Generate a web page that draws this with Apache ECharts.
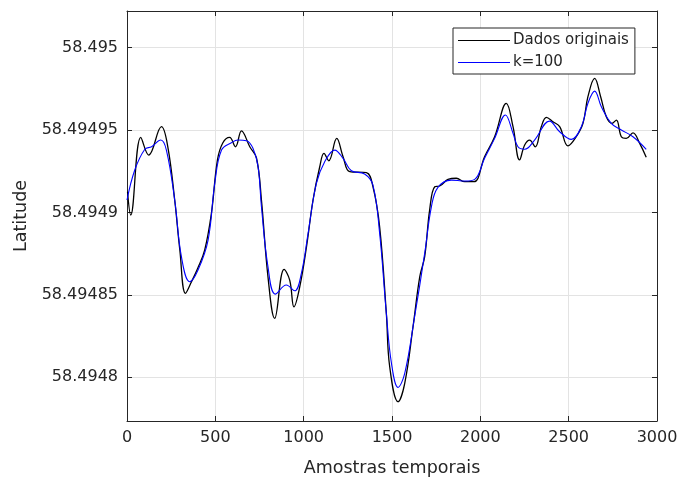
<!DOCTYPE html>
<html lang="en">
<head>
  <meta charset="UTF-8">
  <script src="https://cdn.jsdelivr.net/npm/echarts@6/dist/echarts.min.js"></script>
  <title>Latitude</title>
  <style>
    * {margin: 0; padding: 0;}
    html, body { width: 100%; height: 100%; overflow: hidden; background: #fff; }
    #chart { width: 678px; height: 478px; }
  </style>
</head>
<body>
  <div id="chart"></div>
<script>
// latitude values are stored as offsets above baseLat, in units of 1e-5 degree
var baseLat = 58.4948
var xTicks = [0, 500, 1000, 1500, 2000, 2500, 3000]
var yTicks = [0, 5, 10, 15, 20]

var origX = [3, 21, 78, 123, 195, 231, 270, 299, 331, 365, 401, 440, 478, 512, 542, 581, 614, 648, 695, 733,
  761, 798, 836, 889, 921, 945, 978, 1016, 1053, 1091, 1115, 1142, 1187, 1223, 1261, 1355, 1392, 1430, 1468,
  1487, 1534, 1572, 1619, 1657, 1685, 1713, 1742, 1770, 1817, 1864, 1911, 1964, 2024, 2081, 2147, 2185, 2222,
  2251, 2279, 2311, 2345, 2374, 2411, 2449, 2496, 2543, 2581, 2609, 2647, 2681, 2713, 2745, 2770, 2798, 2826,
  2864, 2902, 2939]
var origY = [11.26, 9.85, 14.56, 13.49, 15.21, 13.99, 10.76, 7.73, 5.10, 5.80, 6.63, 7.73, 9.97, 13.19, 14.22, 14.56, 13.99, 14.96, 13.99, 13.31,
  10.76, 6.10, 3.58, 6.55, 5.90, 4.28, 5.50, 7.92, 10.76, 12.78, 13.59, 13.14, 14.50, 13.39, 12.48, 12.42, 11.57, 9.14, 3.88,
  0.64, -1.48, -0.36, 3.07, 6.10, 7.32, 10.15, 11.57, 11.61, 12.01, 12.08, 11.87, 11.87, 13.39, 14.60, 16.63, 15.21, 13.19,
  14.10, 14.40, 13.99, 15.21, 15.78, 15.51, 15.21, 14.04, 14.60, 15.41, 17.03, 18.14, 17.03, 15.81, 15.41, 15.61, 14.60, 14.50,
  14.84, 14.20, 13.35]

var k100X = [0, 44, 101, 139, 191, 223, 270, 308, 355, 402, 459, 497, 535, 591, 629, 676, 713, 742,
  761, 798, 840, 902, 949, 987, 1025, 1072, 1119, 1176, 1223, 1270, 1345, 1392, 1430, 1468,
  1497, 1534, 1572, 1628, 1685, 1723, 1760, 1836, 1911, 1968, 2024, 2081, 2142, 2185,
  2213, 2251, 2307, 2392, 2449, 2515, 2572, 2609, 2647, 2685, 2741, 2798, 2864, 2939]
var k100Y = [10.76, 12.58, 13.84, 13.99, 14.40, 13.79, 10.76, 7.32, 5.80, 6.51, 8.33, 11.79, 13.79, 14.24, 14.40, 14.36, 13.90, 12.78,
  10.35, 6.71, 5.05, 5.60, 5.25, 6.31, 8.74, 11.77, 13.08, 13.79, 13.29, 12.54, 12.34, 11.67, 8.74, 3.88,
  0.85, -0.61, 0.24, 3.68, 7.52, 10.35, 11.53, 11.97, 11.91, 12.01, 13.29, 14.50, 15.92, 14.81,
  13.99, 13.84, 14.40, 15.55, 14.90, 14.44, 15.21, 16.63, 17.37, 16.42, 15.41, 15.01, 14.60, 13.84]

function pairs (xs, ys) {
  return xs.map(function (x, i) { return [x, ys[i]] })
}

function latLabel (v) {
  return (baseLat + v * 1e-5).toFixed(5).replace(/0+$/, '').replace(/\.$/, '')
}

var axisColor = '#262626'
var gridColor = '#e3e3e3'
var font = 'DejaVu Sans'
var yMin = -2.65
var yMax = 22.23
var lineIcon = 'path://M0,0 L52,0 L52,1.2 L0,1.2 Z'

var option = {
  animation: false,
  textStyle: { fontFamily: font },
  grid: { left: 127, top: 11, right: 21, bottom: 57, outerBoundsMode: 'none' },
  legend: {
    left: 453,
    top: 28,
    orient: 'vertical',
    padding: [5, 6, 4, 5],
    itemWidth: 52,
    itemHeight: 14,
    itemGap: 7,
    backgroundColor: '#fff',
    borderColor: axisColor,
    borderWidth: 1,
    borderRadius: 0,
    textStyle: { fontFamily: font, fontSize: 15, color: axisColor, padding: [0, 0, 0, -2] },
    data: [
      { name: 'Dados originais', icon: lineIcon },
      { name: 'k=100', icon: lineIcon }
    ]
  },
  xAxis: [
    {
      type: 'value', min: 0, max: 3000, interval: 500,
      name: 'Amostras temporais', nameLocation: 'middle', nameGap: 38,
      nameTextStyle: { fontFamily: font, fontSize: 17.5, color: axisColor },
      axisLine: { show: true, onZero: false, lineStyle: { color: axisColor, width: 1 } },
      axisTick: { show: true, inside: true, length: 5, lineStyle: { color: axisColor } },
      axisLabel: { margin: 9, fontSize: 16, color: axisColor, fontFamily: font, formatter: function (v) { return String(v) } },
      splitLine: { show: true, lineStyle: { color: gridColor, width: 1 } }
    },
    {
      type: 'value', min: 0, max: 3000, interval: 500, position: 'top',
      axisLine: { show: true, onZero: false, lineStyle: { color: axisColor, width: 1 } },
      axisTick: { show: true, inside: true, length: 5, lineStyle: { color: axisColor } },
      axisLabel: { show: false },
      splitLine: { show: false }
    }
  ],
  yAxis: [
    {
      type: 'value', min: yMin, max: yMax,
      name: 'Latitude', nameLocation: 'middle', nameGap: 89,
      nameTextStyle: { fontFamily: font, fontSize: 17.5, color: axisColor },
      axisLine: { show: true, onZero: false, lineStyle: { color: axisColor, width: 1 } },
      axisTick: { show: true, inside: true, length: 5, customValues: yTicks, lineStyle: { color: axisColor } },
      axisLabel: { margin: 9, fontSize: 16, color: axisColor, fontFamily: font, customValues: yTicks, formatter: latLabel },
      splitLine: { show: true, lineStyle: { color: gridColor, width: 1 } }
    },
    {
      type: 'value', min: yMin, max: yMax, position: 'right',
      axisLine: { show: true, onZero: false, lineStyle: { color: axisColor, width: 1 } },
      axisTick: { show: true, inside: true, length: 5, customValues: yTicks, lineStyle: { color: axisColor } },
      axisLabel: { show: false, customValues: yTicks },
      splitLine: { show: false }
    }
  ],
  series: [
    {
      name: 'Dados originais',
      type: 'line',
      smooth: 0.4,
      symbol: 'none',
      lineStyle: { color: '#000', width: 1.3 },
      itemStyle: { color: '#000' },
      data: pairs(origX, origY)
    },
    {
      name: 'k=100',
      type: 'line',
      smooth: 0.4,
      symbol: 'none',
      lineStyle: { color: '#0000ff', width: 1.1 },
      itemStyle: { color: '#0000ff' },
      data: pairs(k100X, k100Y)
    }
  ]
}

var chart = echarts.init(document.getElementById('chart'))
chart.setOption(option)
</script>
</body>
</html>
